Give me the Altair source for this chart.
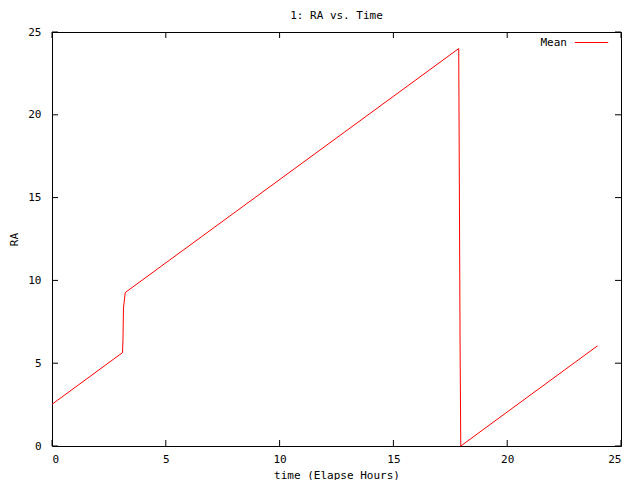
import altair as alt
import pandas as pd

# Data
time_hours = [0.0, 3.10, 3.12, 3.14, 3.22, 17.87, 17.89, 17.93, 17.96, 23.97]
ra_values = [2.52, 5.64, 6.51, 8.33, 9.27, 24.0, 18.06, 6.1, 0.0, 6.05]
tick_values = [0, 5, 10, 15, 20, 25]
series_name = "Mean"

W, H = 569, 414
FONT = "DejaVu Sans Mono"
FS = 11

df = pd.DataFrame({"time": time_hours, "ra": ra_values, "series": series_name})
ticks = pd.DataFrame({"t": tick_values})

xs = alt.Scale(domain=[0, 25], nice=False, zero=False)
ys = alt.Scale(domain=[0, 25], nice=False, zero=False)

xaxis = alt.Axis(values=tick_values, format="d", ticks=False, domain=False, grid=False,
                 labelFont=FONT, labelFontSize=FS, labelColor="black", labelPadding=7,
                 titleFont=FONT, titleFontSize=FS, titleFontWeight="normal",
                 titleColor="black", titlePadding=5)
yaxis = alt.Axis(values=tick_values, format="d", ticks=False, domain=False, grid=False,
                 labelFont=FONT, labelFontSize=FS, labelColor="black", labelPadding=11,
                 titleFont=FONT, titleFontSize=FS, titleFontWeight="normal",
                 titleColor="black", titlePadding=8)
XT = "time (Elapse Hours)"
YT = "RA"

line = alt.Chart(df).mark_line(strokeWidth=1, interpolate="linear").encode(
    x=alt.X("time:Q", scale=xs, title=XT, axis=xaxis),
    y=alt.Y("ra:Q", scale=ys, title=YT, axis=yaxis),
    color=alt.Color("series:N", scale=alt.Scale(domain=[series_name], range=["#ff0000"]),
                    legend=alt.Legend(orient="none", legendX=522, legendY=-7, title=None,
                                      symbolType="stroke", symbolSize=1110, symbolStrokeWidth=1,
                                      labelAlign="right", labelOffset={"expr": "-42"}, labelFont=FONT,
                                      labelFontSize=FS, labelColor="black", padding=0)),
    order=alt.Order("idx:Q"),
).transform_window(idx="row_number()")

tick_len = 6
bottom = alt.Chart(ticks).mark_rule(color="black", strokeWidth=1).encode(
    x=alt.X("t:Q", scale=xs, title=XT, axis=xaxis), y=alt.value(H), y2=alt.value(H - tick_len))
top = alt.Chart(ticks).mark_rule(color="black", strokeWidth=1).encode(
    x=alt.X("t:Q", scale=xs, title=XT, axis=xaxis), y=alt.value(0), y2=alt.value(tick_len))
left = alt.Chart(ticks).mark_rule(color="black", strokeWidth=1).encode(
    y=alt.Y("t:Q", scale=ys, title=YT, axis=yaxis), x=alt.value(0), x2=alt.value(tick_len))
right = alt.Chart(ticks).mark_rule(color="black", strokeWidth=1).encode(
    y=alt.Y("t:Q", scale=ys, title=YT, axis=yaxis), x=alt.value(W), x2=alt.value(W - tick_len))

chart = alt.layer(line, bottom, top, left, right).properties(
    width=W, height=H,
    title=alt.TitleParams("1: RA vs. Time", font=FONT, fontSize=FS, fontWeight="normal",
                          color="black", offset=4.5, anchor="middle"),
    autosize=alt.AutoSizeParams(type="none"),
    padding={"left": 44, "top": 24, "right": 10, "bottom": 34},
    background="white",
).configure_view(stroke="black", strokeWidth=1)

chart.save("out.html", embed_options={"renderer": "svg", "actions": False})
